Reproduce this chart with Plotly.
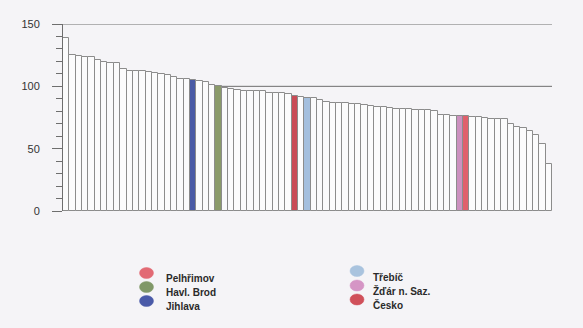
import plotly.graph_objects as go

# ---- data ----
values = [138.5, 125, 124.3, 123.4, 123.2, 121, 119.3, 118.5, 118.5, 113.8,
          112.4, 112.4, 112.3, 111.7, 111, 110, 109.3, 107.5, 105.9, 105.7,
          105, 104, 103.2, 101, 100.2, 98.4, 97.6, 96.8, 96.1, 96,
          96, 95.9, 94.4, 94.4, 94.3, 94, 92.2, 91.6, 91, 90.3,
          88.7, 87.8, 87, 86.8, 86.7, 85.6, 85.5, 85.4, 84.2, 83.3,
          83.1, 82.4, 81.7, 81.6, 81.5, 81.2, 81, 80.8, 80.3, 76.9,
          76.7, 76.2, 76.1, 76.1, 75.3, 75.2, 74.4, 74.1, 73.5, 73.4,
          69.5, 67.4, 66.4, 64, 61, 53.7, 37.5]
categories = list(range(len(values)))

highlight_idx = {20: "Jihlava", 24: "Havl. Brod", 36: "Pelhřimov",
                 38: "Třebíč", 62: "Žďár n. Saz.", 63: "Česko"}
bar_colors = {"Jihlava": "#4a5ba5", "Havl. Brod": "#8a9a6a", "Pelhřimov": "#c94b57",
              "Třebíč": "#a4bfde", "Žďár n. Saz.": "#cc90bf", "Česko": "#e0606c"}

legend_left = ["Pelhřimov", "Havl. Brod", "Jihlava"]
legend_right = ["Třebíč", "Žďár n. Saz.", "Česko"]
legend_colors = {"Pelhřimov": "#e26a74", "Havl. Brod": "#809868", "Jihlava": "#4a5aa8",
                 "Třebíč": "#a9c3de", "Žďár n. Saz.": "#d595c5", "Česko": "#d0505a"}

y_ticks = [0, 50, 100, 150]
ref_lines = [100, 150]

# ---- layout geometry (pixels) ----
W, H = 583, 328
L, R, T, B = 63, 31, 24, 117
pw, ph = W - L - R, H - T - B

def px2paper_x(px):
    return (px - L) / pw

def px2paper_y(py):
    return (H - B - py) / ph

BG = "#f5f4f7"
fills = [bar_colors[highlight_idx[i]] if i in highlight_idx else "#fbfbfc" for i in categories]

fig = go.Figure()
fig.add_trace(go.Bar(
    x=categories, y=values,
    marker=dict(color=fills, line=dict(color="#8c8c8c", width=1)),
    showlegend=False, hoverinfo="skip"))

shapes = []
for v in ref_lines:
    shapes.append(dict(type="line", xref="paper", yref="y", x0=0, x1=1, y0=v, y1=v,
                       line=dict(color="#6e6e6e", width=1), layer="below"))

annotations = []
def legend_col(names, mx, tx, ys_m, ys_t):
    for n, ym, yt in zip(names, ys_m, ys_t):
        shapes.append(dict(type="circle", xref="paper", yref="paper",
                           x0=px2paper_x(mx - 7), x1=px2paper_x(mx + 7),
                           y0=px2paper_y(ym + 5.5), y1=px2paper_y(ym - 5.5),
                           fillcolor=legend_colors[n], line=dict(color=legend_colors[n], width=0.5),
                           layer="above"))
        annotations.append(dict(text="<b>%s</b>" % n, xref="paper", yref="paper",
                                x=px2paper_x(tx), y=px2paper_y(yt), xanchor="left", yanchor="middle",
                                showarrow=False, font=dict(family="Liberation Sans, Arial", size=10, color="#2a2a2a")))

legend_col(legend_left, 146.5, 164, [273, 287, 301], [278, 292, 306])
legend_col(legend_right, 357, 371, [271, 285.5, 299.5], [277, 291, 305])

fig.update_layout(
    width=W, height=H,
    margin=dict(l=L, r=R, t=T, b=B, pad=0),
    paper_bgcolor=BG, plot_bgcolor=BG,
    bargap=0,
    showlegend=False,
    shapes=shapes,
    annotations=annotations,
    font=dict(family="Liberation Sans, Arial", size=11, color="#333333"),
    xaxis=dict(range=[-0.5, len(values) - 0.5], showticklabels=False, ticks="",
               showgrid=False, zeroline=False, showline=False),
    yaxis=dict(range=[0, 150], tickvals=y_ticks, ticks="outside", ticklen=10,
               tickcolor="#6e6e6e", tickwidth=1, showgrid=False, zeroline=False,
               showline=True, linecolor="#6e6e6e", linewidth=1,
               ticklabelstandoff=10,
               tickfont=dict(family="Liberation Sans, Arial", size=11, color="#333333"),
               minor=dict(dtick=10, ticks="outside", ticklen=6, tickcolor="#6e6e6e", tickwidth=1)),
)

fig.write_html("out.html")
